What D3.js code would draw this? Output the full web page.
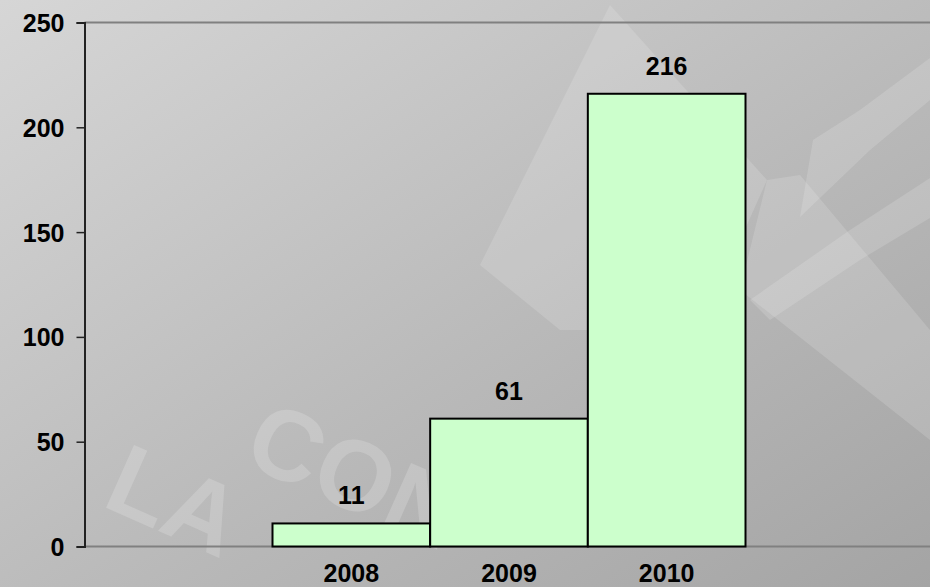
<!DOCTYPE html>
<html>
<head>
<meta charset="utf-8">
<script src="https://cdn.jsdelivr.net/npm/d3@7/dist/d3.min.js"></script>
<style>
  html, body { margin: 0; padding: 0; background: #c0c0c0; }
  svg { display: block; }
  text { font-family: "Liberation Sans", Arial, sans-serif; font-weight: bold; fill: #000; }
</style>
</head>
<body>
<div id="chart"></div>
<script>
const categories = ["2008", "2009", "2010"];
const values = [11, 61, 216];
const yTicks = [0, 50, 100, 150, 200, 250];

const W = 930, H = 587;
const svg = d3.select("#chart").append("svg").attr("width", W).attr("height", H);

const defs = svg.append("defs");
const grad = defs.append("linearGradient").attr("id", "bg")
  .attr("x1", "0%").attr("y1", "0%").attr("x2", "100%").attr("y2", "100%");
grad.append("stop").attr("offset", "0%").attr("stop-color", "#d6d6d6");
grad.append("stop").attr("offset", "55%").attr("stop-color", "#bababa");
grad.append("stop").attr("offset", "100%").attr("stop-color", "#a4a4a4");
svg.append("rect").attr("width", W).attr("height", H).attr("fill", "url(#bg)");

// watermark (decorative)
const wm = svg.append("g").attr("fill", "#ffffff").attr("fill-opacity", 0.15);
wm.append("path").attr("d", "M610,5 L767,180 L700,330 L560,330 L480,265 Z");
wm.append("path").attr("d", "M767,180 L800,175 L930,330 L930,440 L740,290 Z");
wm.append("path").attr("d", "M800,217 L813,140 L860,110 L930,58 L930,100 L870,150 Z");
wm.append("path").attr("d", "M750,300 L850,230 L930,178 L930,218 L860,260 L770,320 Z");
const wmText = svg.append("g").style("font-weight", "normal");
wmText.append("text")
  .attr("transform", "translate(240,462) rotate(24)")
  .attr("font-size", 100).style("fill", "#ffffff").style("fill-opacity", 0.18)
  .text("CON");
wmText.append("text")
  .attr("transform", "translate(100,505) rotate(24)")
  .attr("font-size", 100).style("fill", "#ffffff").style("fill-opacity", 0.18)
  .text("LA");

const plotLeft = 84.5, plotRight = 930, plotTop = 22.5, plotBottom = 546.5;

const y = d3.scaleLinear().domain([0, 250]).range([plotBottom, plotTop]);
const x = d3.scaleBand().domain(categories).range([272.5, 745.5]).paddingInner(0).paddingOuter(0);

// top border line and baseline
svg.append("line").attr("x1", plotLeft).attr("x2", plotRight)
  .attr("y1", y(250)).attr("y2", y(250)).attr("stroke", "#808080").attr("stroke-width", 2);
svg.append("line").attr("x1", plotLeft).attr("x2", plotRight)
  .attr("y1", y(0)).attr("y2", y(0)).attr("stroke", "#808080").attr("stroke-width", 2);

// bars
svg.append("g").selectAll("rect").data(values).join("rect")
  .attr("x", (d, i) => x(categories[i]))
  .attr("y", d => y(d))
  .attr("width", x.bandwidth())
  .attr("height", d => y(0) - y(d))
  .attr("fill", "#ccffcc")
  .attr("stroke", "#000").attr("stroke-width", 2);

// value labels
svg.append("g").selectAll("text").data(values).join("text")
  .attr("x", (d, i) => x(categories[i]) + x.bandwidth() / 2)
  .attr("y", d => y(d) - 19)
  .attr("text-anchor", "middle")
  .attr("font-size", 25)
  .text(d => d);

// y axis
const yAxis = d3.axisLeft(y).tickValues(yTicks).tickSize(8).tickPadding(12);
const gy = svg.append("g").attr("transform", `translate(${plotLeft},0)`).call(yAxis);
gy.select(".domain").attr("stroke", "#222").attr("stroke-width", 2);
gy.selectAll(".tick line").attr("stroke", "#222").attr("stroke-width", 1.5);
gy.selectAll(".tick text").attr("font-size", 25).attr("font-family", null).attr("dy", "0.36em");

// x axis labels
const xAxis = d3.axisBottom(x).tickSize(0).tickPadding(18);
const gx = svg.append("g").attr("transform", `translate(0,${plotBottom})`).call(xAxis);
gx.select(".domain").remove();
gx.selectAll(".tick text").attr("font-size", 25).attr("font-family", null).attr("dy", "0.71em");
</script>
</body>
</html>
